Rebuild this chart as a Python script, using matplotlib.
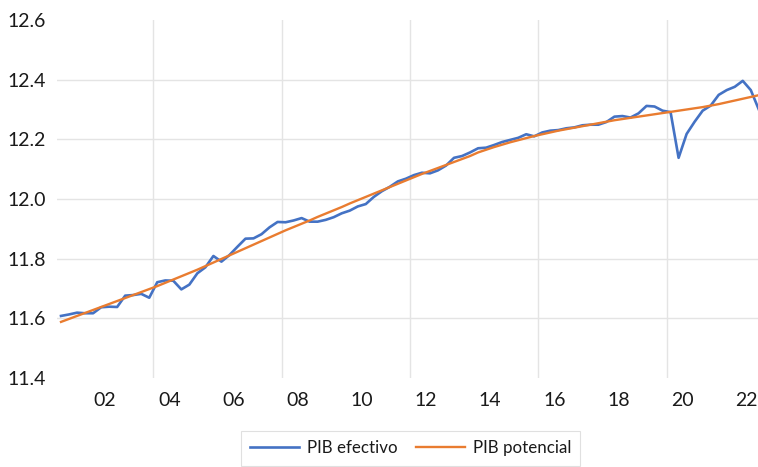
import matplotlib
matplotlib.use("Agg")
import matplotlib.pyplot as plt
import numpy as np

# quarterly data, 2001Q1 .. 2022Q4 (log real GDP)
start_year = 2001
pib_efectivo = [
    11.608, 11.613, 11.619, 11.617, 11.617, 11.637, 11.639, 11.638,
    11.676, 11.678, 11.682, 11.669, 11.721, 11.727, 11.726, 11.697,
    11.713, 11.751, 11.771, 11.809, 11.790, 11.812, 11.840, 11.867,
    11.868, 11.882, 11.905, 11.923, 11.922, 11.928, 11.936, 11.924,
    11.924, 11.930, 11.939, 11.952, 11.961, 11.975, 11.983, 12.007,
    12.026, 12.041, 12.059, 12.068, 12.080, 12.088, 12.086, 12.096,
    12.112, 12.138, 12.144, 12.156, 12.170, 12.172, 12.181, 12.191,
    12.198, 12.205, 12.217, 12.210, 12.223, 12.229, 12.231, 12.237,
    12.240, 12.247, 12.249, 12.249, 12.258, 12.276, 12.278, 12.273,
    12.287, 12.312, 12.310, 12.296, 12.291, 12.138, 12.218, 12.259,
    12.296, 12.313, 12.349, 12.365, 12.376, 12.396, 12.365, 12.300,
]
pib_potencial = [
    11.588, 11.598, 11.608, 11.618, 11.628, 11.638, 11.648, 11.658,
    11.668, 11.678, 11.688, 11.698, 11.708, 11.719, 11.730, 11.741,
    11.752, 11.763, 11.775, 11.787, 11.799, 11.811, 11.823, 11.835,
    11.847, 11.859, 11.871, 11.883, 11.895, 11.906, 11.917, 11.928,
    11.940, 11.951, 11.962, 11.973, 11.985, 11.996, 12.007, 12.018,
    12.029, 12.040, 12.051, 12.062, 12.073, 12.084, 12.094, 12.104,
    12.114, 12.124, 12.134, 12.144, 12.156, 12.165, 12.174, 12.182,
    12.190, 12.197, 12.204, 12.211, 12.217, 12.223, 12.229, 12.234,
    12.239, 12.244, 12.249, 12.254, 12.259, 12.264, 12.268, 12.272,
    12.276, 12.280, 12.284, 12.288, 12.292, 12.296, 12.300, 12.304,
    12.308, 12.313, 12.318, 12.324, 12.330, 12.336, 12.342, 12.348,
]
year_labels = ["02", "04", "06", "08", "10", "12", "14", "16", "18", "20", "22"]
y_ticks = [11.4, 11.6, 11.8, 12.0, 12.2, 12.4, 12.6]

plt.rcParams.update({
    "font.family": ["Lato", "DejaVu Sans"],
    "text.color": "#1a1a1a",
    "xtick.color": "#1a1a1a",
    "ytick.color": "#1a1a1a",
})

blue = "#4472c4"
orange = "#e97c30"
grid = "#e4e4e4"

# each quarter sits in the middle of its slot
t = start_year + 0.125 + 0.25 * np.arange(len(pib_efectivo))

fig = plt.figure(figsize=(7.58, 4.67), dpi=100)
ax = fig.add_axes([0.0752, 0.1906, 0.9248, 0.7666])

ax.plot(t, pib_efectivo, color=blue, lw=1.9, label="PIB efectivo", zorder=3)
ax.plot(t, pib_potencial, color=orange, lw=1.7, label="PIB potencial", zorder=4)

ax.set_xlim(2001.0, 2022.85)
ax.set_ylim(11.4, 12.6)

# gridlines every 4 years (slot boundaries), labels every 2 years at mid-year
for gx in [2004, 2008, 2012, 2016, 2020]:
    ax.axvline(gx, color=grid, lw=1.0, zorder=1)
for gy in y_ticks[1:-1]:
    ax.axhline(gy, color=grid, lw=1.0, zorder=1)

label_pos = [2000 + int(s) + 0.5 for s in year_labels]
ax.set_xticks(label_pos)
ax.set_xticklabels(year_labels, fontsize=14)
ax.set_yticks(y_ticks)
ax.set_yticklabels([f"{v:.1f}" for v in y_ticks], fontsize=14)
ax.tick_params(axis="both", length=0)
ax.tick_params(axis="x", pad=10)
ax.tick_params(axis="y", pad=8)
for s in ax.spines.values():
    s.set_visible(False)

leg = fig.legend(loc="upper center", bbox_to_anchor=(0.5416, 0.077), ncol=2,
                 fontsize=12.2, frameon=True, fancybox=False, handlelength=2.9,
                 columnspacing=1.1, handletextpad=0.45, borderpad=0.55,
                 borderaxespad=0)
leg.get_frame().set_edgecolor("#d9d9d9")
leg.get_frame().set_linewidth(0.8)

fig.savefig("out.png", dpi=100)
